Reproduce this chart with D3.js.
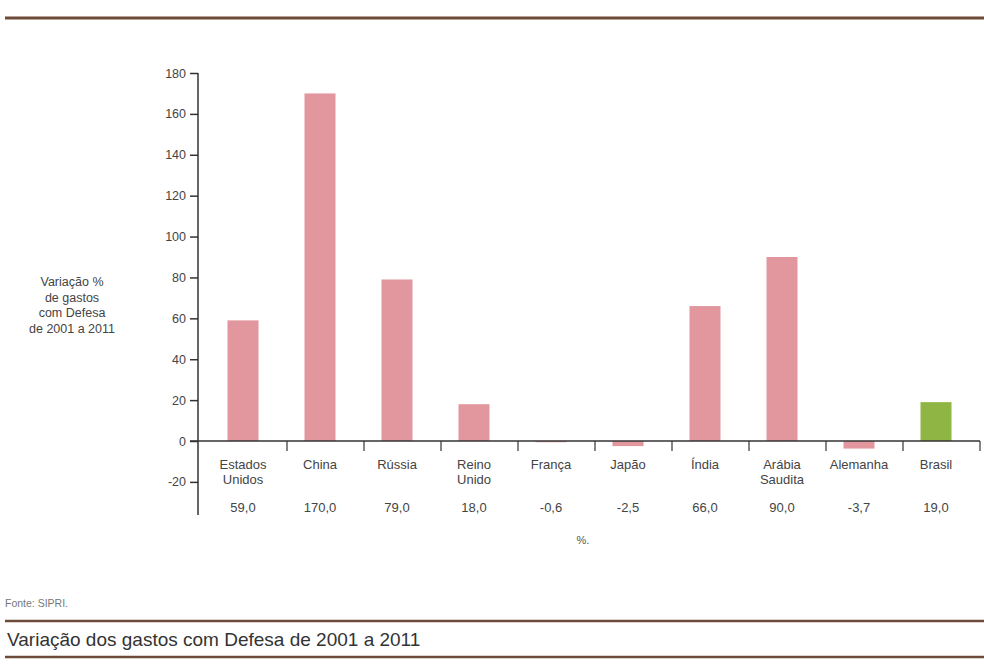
<!DOCTYPE html>
<html>
<head>
<meta charset="utf-8">
<script src="https://cdn.jsdelivr.net/npm/d3@7"></script>
<style>
  body { margin: 0; background: #fff; }
  svg { font-family: "Liberation Sans", Arial, sans-serif; }
</style>
</head>
<body>
<div id="chart"></div>
<script>
// data
var paises = [["Estados", "Unidos"], ["China"], ["Rússia"], ["Reino", "Unido"], ["França"], ["Japão"], ["Índia"], ["Arábia", "Saudita"], ["Alemanha"], ["Brasil"]]
var variacao = [59.0, 170.0, 79.0, 18.0, -0.6, -2.5, 66.0, 90.0, -3.7, 19.0]
var rotulos = ["59,0", "170,0", "79,0", "18,0", "-0,6", "-2,5", "66,0", "90,0", "-3,7", "19,0"]
var yTicks = [-20, 0, 20, 40, 60, 80, 100, 120, 140, 160, 180]

var width = 984, height = 671
var svg = d3.select("#chart").append("svg")
  .attr("width", width)
  .attr("height", height)

var y = d3.scaleLinear().domain([0, 180]).range([441, 73])
var x = d3.scaleBand().domain(d3.range(paises.length)).range([210, 980])
var barW = 31
var off = 33 // bars sit a bit left of the band centre

// brown rules
var rule = "#6e4b38"
svg.append("line").attr("x1", 5).attr("x2", 984).attr("y1", 18).attr("y2", 18)
  .style("stroke", rule).style("stroke-width", 3)
svg.append("line").attr("x1", 5).attr("x2", 984).attr("y1", 621).attr("y2", 621)
  .style("stroke", rule).style("stroke-width", 2.5)
svg.append("line").attr("x1", 5).attr("x2", 984).attr("y1", 657).attr("y2", 657)
  .style("stroke", rule).style("stroke-width", 2.5)

// bars
svg.selectAll(".bar")
  .data(variacao)
  .enter().append("rect")
  .attr("class", "bar")
  .attr("x", function(d, i) { return x(i) + off - barW / 2 })
  .attr("y", function(d) { return y(Math.max(0, d)) })
  .attr("width", barW)
  .attr("height", function(d) { return Math.abs(y(d) - y(0)) })
  .style("fill", function(d, i) { return i == paises.length - 1 ? "#8fb544" : "#e2969d" })

// y axis
var yAxis = d3.axisLeft(y).tickValues(yTicks).tickSize(8).tickPadding(4)
  .tickFormat(function(d) { return String(d) })
var gy = svg.append("g").attr("transform", "translate(198,0)").call(yAxis)
gy.select(".domain").remove()
gy.append("line").attr("x1", 0).attr("x2", 0).attr("y1", 73).attr("y2", 515)
  .style("stroke", "#333").style("stroke-width", 1.5)
gy.selectAll(".tick line").style("stroke", "#333").style("stroke-width", 1.5)
gy.selectAll(".tick text").style("font-size", "12.5px").style("fill", "#444")
  .attr("font-family", "Liberation Sans, Arial, sans-serif")

// x baseline with separator ticks
svg.append("line").attr("x1", 190).attr("x2", 980).attr("y1", y(0)).attr("y2", y(0))
  .style("stroke", "#333").style("stroke-width", 1.5)
svg.selectAll(".sep")
  .data(d3.range(paises.length))
  .enter().append("line")
  .attr("class", "sep")
  .attr("x1", function(i) { return x(i) + x.bandwidth() })
  .attr("x2", function(i) { return x(i) + x.bandwidth() })
  .attr("y1", y(0))
  .attr("y2", y(0) + 10)
  .style("stroke", "#333").style("stroke-width", 1.2)

// category labels
var lab = svg.selectAll(".cat")
  .data(paises)
  .enter().append("text")
  .attr("class", "cat")
  .attr("text-anchor", "middle")
  .style("font-size", "13px")
  .style("fill", "#444")
lab.each(function(d, i) {
  var t = d3.select(this)
  d.forEach(function(s, k) {
    t.append("tspan").attr("x", x(i) + off).attr("y", 469 + k * 15).text(s)
  })
})

// values
svg.selectAll(".val")
  .data(rotulos)
  .enter().append("text")
  .attr("class", "val")
  .attr("x", function(d, i) { return x(i) + off })
  .attr("y", 512)
  .attr("text-anchor", "middle")
  .style("font-size", "13px")
  .style("fill", "#444")
  .text(function(d) { return d })

svg.append("text").attr("x", 583).attr("y", 544).attr("text-anchor", "middle")
  .style("font-size", "11px").style("fill", "#555").text("%.")

// y label
var yl = svg.append("text").attr("text-anchor", "middle").style("font-size", "12.5px").style("fill", "#444")
;["Variação %", "de gastos", "com Defesa", "de 2001 a 2011"].forEach(function(s, k) {
  yl.append("tspan").attr("x", 72).attr("y", 286 + k * 15.5).text(s)
})

// source and title
svg.append("text").attr("x", 5).attr("y", 607).style("font-size", "10.5px").style("fill", "#777").text("Fonte: SIPRI.")
svg.append("text").attr("x", 7).attr("y", 646).style("font-size", "19px").style("fill", "#333")
  .text("Variação dos gastos com Defesa de 2001 a 2011")
</script>
</body>
</html>
